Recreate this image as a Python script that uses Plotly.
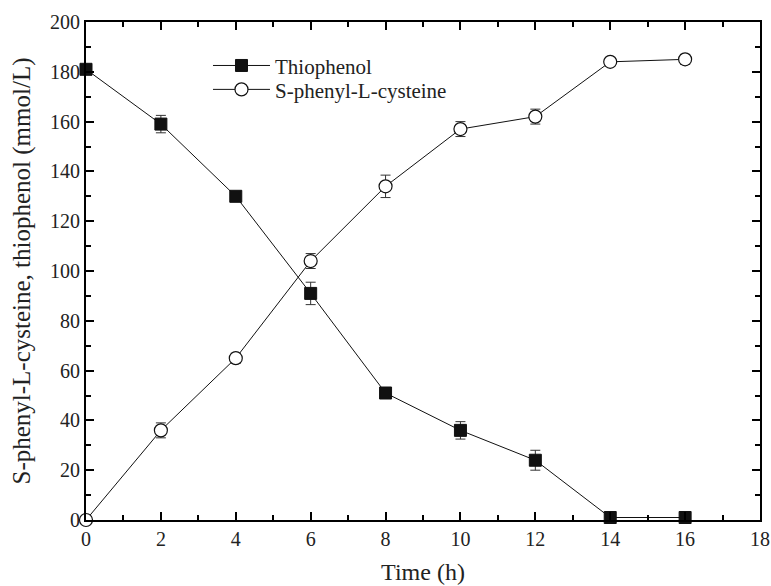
import plotly.graph_objects as go

time_h = [0, 2, 4, 6, 8, 10, 12, 14, 16]
thiophenol = [181, 159, 130, 91, 51, 36, 24, 1, 1]
thiophenol_err = [2, 3.5, 1, 4.5, 2, 3.5, 4, 1, 1]
splc = [0, 36, 65, 104, 134, 157, 162, 184, 185]
splc_err = [0.5, 3, 2, 3, 4.5, 3, 3, 1.5, 2]

font_family = "Liberation Serif"
txt = "#222222"

fig = go.Figure()
fig.add_trace(go.Scatter(
    x=time_h, y=thiophenol, name="Thiophenol", mode="lines+markers",
    line=dict(color="#111111", width=1),
    marker=dict(symbol="square", size=12, color="#111111", line=dict(color="#111111", width=1)),
    error_y=dict(type="data", array=thiophenol_err, visible=True, color="#333333", thickness=1, width=5),
    cliponaxis=False, legend="legend",
))
fig.add_trace(go.Scatter(
    x=time_h, y=splc, name="S-phenyl-L-cysteine", mode="lines+markers",
    line=dict(color="#111111", width=1),
    marker=dict(symbol="circle", size=13, color="white", line=dict(color="#111111", width=1.2)),
    error_y=dict(type="data", array=splc_err, visible=True, color="#333333", thickness=1, width=5),
    cliponaxis=False, legend="legend2",
))

axis_common = dict(
    showline=True, linecolor="black", linewidth=2, mirror="allticks",
    ticks="inside", ticklen=8, tickwidth=1.5, tickcolor="black",
    showgrid=False, zeroline=False, automargin=False,
    tickfont=dict(family=font_family, size=20, color=txt),
)

fig.update_xaxes(range=[0, 18], dtick=2,
                 title=dict(text="Time (h)", font=dict(family=font_family, size=24, color=txt), standoff=14),
                 minor=dict(ticks="inside", ticklen=5, tickwidth=1.5, tickcolor="black", dtick=1), **axis_common)
fig.update_yaxes(range=[0, 200], dtick=20,
                 title=dict(text="S-phenyl-L-cysteine, thiophenol (mmol/L)", font=dict(family=font_family, size=25, color=txt), standoff=12),
                 minor=dict(ticks="inside", ticklen=5, tickwidth=1.5, tickcolor="black", dtick=10), **axis_common)

leg_common = dict(x=0.181, xanchor="left", yanchor="middle", bgcolor="rgba(0,0,0,0)",
                  font=dict(family=font_family, size=21, color=txt), itemwidth=57)
fig.update_layout(
    width=771, height=586,
    font=dict(family=font_family, color=txt),
    margin=dict(l=86, r=11, t=22, b=66, autoexpand=False),
    plot_bgcolor="white", paper_bgcolor="white",
    showlegend=True,
    legend=dict(y=0.912, **leg_common),
    legend2=dict(y=0.864, **leg_common),
)

fig.write_html("out.html")
